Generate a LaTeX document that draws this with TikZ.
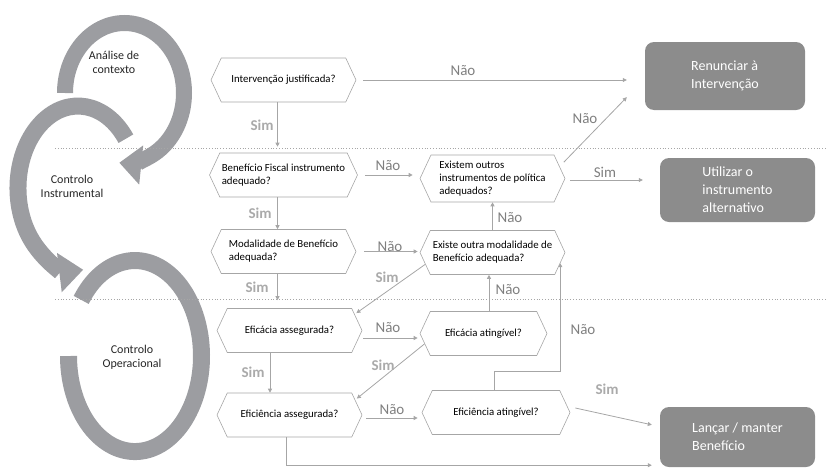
\documentclass[tikz,border=0pt]{standalone}
\usepackage{fontspec}
\setmainfont{Carlito}
\usetikzlibrary{shapes.symbols,arrows.meta}
\definecolor{ringgray}{RGB}{156,157,161}
\definecolor{boxgray}{RGB}{140,140,140}
\definecolor{linegray}{RGB}{166,166,166}
\definecolor{naogray}{RGB}{127,127,127}
\definecolor{simgray}{RGB}{170,170,170}
\begin{document}
\begin{tikzpicture}[x=1pt, y=-1pt,
    ask/.style={signal, signal to=west and east, signal pointer angle=130,
      draw=linegray, line width=0.6pt, minimum width=145pt, minimum height=44pt,
      inner sep=2pt, align=left, font=\fontsize{10.8}{13}\selectfont},
    result/.style={rounded corners=9pt, fill=boxgray, text=white, align=left,
      font=\fontsize{14}{18}\selectfont},
    ring/.style={draw=ringgray, line width=16pt},
    phase/.style={align=center, text=black!85, font=\fontsize{12}{14}\selectfont},
    flow/.style={draw=linegray, line width=0.8pt, -{Triangle[length=4pt,width=4pt]}},
    nao/.style={text=naogray, font=\fontsize{15}{15}\selectfont},
    sim/.style={text=simgray, font=\fontsize{15}{15}\selectfont\bfseries}
  ]
  \useasboundingbox (0,0) rectangle (826,469);

  % rings
  \draw[ring, -{Triangle[length=22pt,width=38pt]}] (65,93)
    arc[start angle=180, end angle=455, x radius=59.5, y radius=70];
  \draw[ring, line width=17pt, -{Triangle[length=24pt,width=38pt]}] (125.9,138.7)
    arc[start angle=-37, end angle=-275, x radius=60, y radius=82];
  \draw[ring, line width=17pt] (81.2,299.9)
    arc[start angle=216, end angle=540, x radius=66.5, y radius=95.5];

  \node[phase] (contexto) at (114,62) {Análise de\\contexto};
  \node[phase] (instrumental) at (72,186) {Controlo\\Instrumental};
  \node[phase] (operacional) at (132,357) {Controlo\\Operacional};

  \foreach \y in {148,299}
    \draw[linegray, dotted, line width=0.8pt] (55,\y) -- (826,\y);

  % questions
  \node[ask] (justif) at (283.5,80) {Intervenção justificada?};
  \node[ask] (fiscal) at (283.5,175) {Benefício Fiscal instrumento\\adequado?};
  \node[ask] (modal) at (283.5,251.5) {Modalidade de Benefício\\adequada?};
  \node[ask] (eficaz) at (289.5,330.5) {Eficácia assegurada?};
  \node[ask] (eficiente) at (289.5,415) {Eficiência assegurada?};
  \node[ask, minimum height=47pt] (outros) at (492.5,178.5) {Existem outros\\instrumentos de política\\adequados?};
  \node[ask] (outramod) at (492.5,252.5) {Existe outra modalidade de\\Benefício adequada?};
  \node[ask, minimum width=127pt] (eficazok) at (483.5,333.5) {Eficácia atingível?};
  \node[ask, minimum width=148pt] (eficienteok) at (496,412.5) {Eficiência atingível?};

  % outcomes
  \node[result, minimum width=160pt, minimum height=68pt] (renuncia) at (725,76) {Renunciar à\\Intervenção};
  \node[result, minimum width=155pt, minimum height=64pt] (alternativo) at (737.5,190) {Utilizar o\\instrumento\\alternativo};
  \node[result, minimum width=155pt, minimum height=60pt] (lancar) at (737.5,437) {Lançar / manter\\Benefício};

  % connectors
  \draw[flow] ([xshift=7pt]justif.east) -- ([xshift=-18pt]justif.east -| renuncia.west);
  \draw[flow] ([xshift=-6pt]justif.south) -- ([xshift=-6pt,yshift=6pt]fiscal.north);
  \draw[flow] ([xshift=7pt]fiscal.east) -- ([xshift=-7pt]fiscal.east -| outros.west);
  \draw[flow] ([xshift=-6pt]fiscal.south) -- ([xshift=-6pt]modal.north);
  \draw[flow] ([xshift=6pt]outros.14) -- ([xshift=-18pt,yshift=13pt]renuncia.south west);
  \draw[flow] ([xshift=5pt,yshift=-1.5pt]outros.east) -- ([xshift=-17pt,yshift=-1.5pt]outros.east -| alternativo.west);
  \draw[flow] ([xshift=-6pt]modal.south) -- ([xshift=-12pt,yshift=8pt]eficaz.north);
  \draw[flow] ([xshift=8pt]modal.east) -- ([xshift=-2pt]modal.east -| outramod.west);
  \draw[flow] (outramod.north) -- (outros.south);
  \draw[flow, shorten >=2pt] (outramod.190) -- (eficaz.14);
  \draw[flow] ([xshift=-19.5pt]eficaz.south) -- ([xshift=-19.5pt]eficiente.north);
  \draw[flow] ([xshift=1pt,yshift=-7.5pt]eficaz.east) -- ([xshift=-2pt,yshift=-7.5pt]eficaz.east -| eficazok.west);
  \draw[flow] ([xshift=5.5pt]eficazok.north) -- ([xshift=5.5pt]eficazok.north |- outramod.south);
  \draw[flow, shorten >=2pt] (eficazok.190) -- (eficiente.13);
  \draw[flow] ([xshift=4pt,yshift=-3pt]eficiente.east) -- ([xshift=-4pt,yshift=-3pt]eficiente.east -| eficienteok.west);
  \draw[flow] ([xshift=-2pt]eficienteok.north) -- ++(0,-19) -| (outramod.-9);
  \draw[flow] ([xshift=5pt,yshift=4.5pt]eficienteok.east) -- ([xshift=-8pt,yshift=-18pt]lancar.north west);
  \draw[flow] ([xshift=-3.5pt]eficiente.south) |- ([xshift=-8pt,yshift=2pt]lancar.south west);

  % answers
  \foreach \x/\y [count=\i] in {463/71, 388/166, 585/119, 510/218, 390/247,
      508/290, 388/328, 392/410, 583/330}
    \node[nao] (nao\i) at (\x,\y) {Não};
  \foreach \x/\y [count=\i] in {262/125, 260/213, 257/287, 387/277,
      253/372, 383/365, 607/389}
    \node[sim] (sim\i) at (\x,\y) {Sim};
  \node[nao] (simalt) at (605,172) {Sim};
\end{tikzpicture}
\end{document}
